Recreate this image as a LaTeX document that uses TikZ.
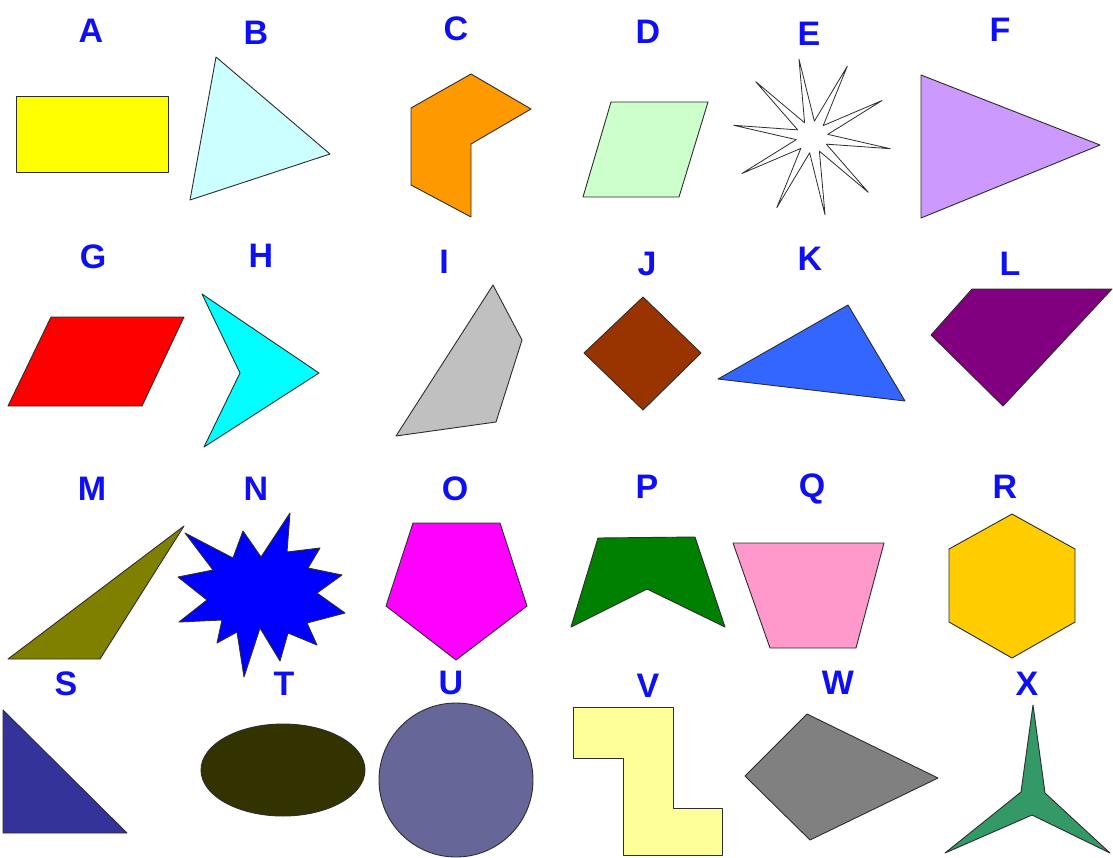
\documentclass[tikz,border=0pt]{standalone}
\usepackage{fontspec}
\setmainfont{Liberation Sans}
\usetikzlibrary{calc}
\definecolor{lbl}{RGB}{15,15,245}
\definecolor{edge}{RGB}{45,45,45}
\definecolor{cA}{HTML}{FFFF00}
\definecolor{cB}{HTML}{CCFFFF}
\definecolor{cC}{HTML}{FF9900}
\definecolor{cD}{HTML}{CCFFCC}
\definecolor{cF}{HTML}{CC99FF}
\definecolor{cG}{HTML}{FF0000}
\definecolor{cH}{HTML}{00FFFF}
\definecolor{cI}{HTML}{C0C0C0}
\definecolor{cJ}{HTML}{993300}
\definecolor{cK}{HTML}{3366FF}
\definecolor{cL}{HTML}{800080}
\definecolor{cM}{HTML}{808000}
\definecolor{cN}{HTML}{0000FF}
\definecolor{cO}{HTML}{FF00FF}
\definecolor{cP}{HTML}{008000}
\definecolor{cQ}{HTML}{FF99CC}
\definecolor{cR}{HTML}{FFCC00}
\definecolor{cS}{HTML}{333399}
\definecolor{cT}{HTML}{333300}
\definecolor{cU}{HTML}{666699}
\definecolor{cV}{HTML}{FFFF99}
\definecolor{cW}{HTML}{808080}
\definecolor{cX}{HTML}{339966}
\begin{document}
\begin{tikzpicture}[x=1pt,y=-1pt,
  shp/.style={draw=edge,line width=0.9pt,line join=round,fill=#1},
  lab/.style={text=lbl,font=\fontsize{34}{38}\selectfont\bfseries,inner sep=0pt,anchor=center}]
\useasboundingbox[fill=white] (0,0) rectangle (1113,857);
% labels
\node[lab] (lA) at (91,31) {A};
\node[lab] (lB) at (256,33) {B};
\node[lab] (lC) at (456,29) {C};
\node[lab] (lD) at (648,32) {D};
\node[lab] (lE) at (809,34) {E};
\node[lab] (lF) at (1000,30) {F};
\node[lab] (lG) at (93,257) {G};
\node[lab] (lH) at (261,256) {H};
\node[lab] (lI) at (444,262) {I};
\node[lab] (lJ) at (647,264) {J};
\node[lab] (lK) at (810,259) {K};
\node[lab] (lL) at (1010,264) {L};
\node[lab] (lM) at (92,489) {M};
\node[lab] (lN) at (256,489) {N};
\node[lab] (lO) at (455,489) {O};
\node[lab] (lP) at (647,487) {P};
\node[lab] (lQ) at (812,489) {Q};
\node[lab] (lR) at (1005,487) {R};
\node[lab] (lS) at (66,684) {S};
\node[lab] (lT) at (284,684) {T};
\node[lab] (lU) at (451,683) {U};
\node[lab] (lV) at (648,686) {V};
\node[lab] (lW) at (838,683) {W};
\node[lab] (lX) at (1027,684) {X};
% row 1
\draw[shp=cA] (16,96) rectangle (168,172);
\draw[shp=cB] (216,57) -- (330,154) -- (190,200) -- cycle;
\draw[shp=cC] (471,74) -- (531,109) -- (471,144) -- (471,217) -- (411,185) -- (411,108) -- cycle;
\draw[shp=cD] (611,102) -- (708,102) -- (679,197) -- (583,197) -- cycle;
\draw[shp=white,line width=0.8pt] ($(812,137)+(260.5:79)$)
  \foreach \k in {0,...,9} { -- ($(812,137)+(278.5+36*\k:16)$) -- ($(812,137)+(296.5+36*\k:79)$) } -- cycle;
\draw[shp=cF] (921,75) -- (1100,145) -- (921,218) -- cycle;
% row 2
\draw[shp=cG] (51,317) -- (184,317) -- (142,406) -- (8,406) -- cycle;
\draw[shp=cH] (202,294) -- (319,373) -- (204,447) -- (240,373) -- cycle;
\draw[shp=cI] (493,285) -- (522,340) -- (496,422) -- (396,436) -- cycle;
\draw[shp=cJ] (643,297) -- (701,353) -- (643,410) -- (584,353) -- cycle;
\draw[shp=cK] (848,305) -- (905,401) -- (718,379) -- cycle;
\draw[shp=cL] (972,289) -- (1112,289) -- (1003,406) -- (931,335) -- cycle;
% row 3
\draw[shp=cM] (184,526) -- (100,659) -- (8,659) -- cycle;
\draw[shp=cN] (185,533) -- (233,558) -- (243,531) -- (261,557) -- (290,513) -- (287,552)
  -- (320,548) -- (308,568) -- (342,575) -- (317,593) -- (345,613) -- (307,623)
  -- (317,645) -- (288,633) -- (280,661) -- (260,628) -- (244,677) -- (237,632)
  -- (217,643) -- (222,620) -- (179,622) -- (207,600) -- (178,577) -- (213,570) -- cycle;
\draw[shp=cO] (413,523) -- (500,523) -- (527,606) -- (456,660) -- (386,606) -- cycle;
\draw[shp=cP] (598,538) -- (695,537) -- (725,627) -- (647,589) -- (571,627) -- cycle;
\draw[shp=cQ] (733,543) -- (884,543) -- (856,648) -- (770,648) -- cycle;
\draw[shp=cR] (1012,514) -- (1075,549) -- (1075,622) -- (1012,658) -- (949,622) -- (949,549) -- cycle;
% row 4
\draw[shp=cS] (3,710) -- (127,833) -- (3,833) -- cycle;
\draw[shp=cT] (283,770) ellipse [x radius=82,y radius=46];
\draw[shp=cU] (456,780) circle [radius=77];
\draw[shp=cV] (573,707) -- (673,707) -- (673,808) -- (722,808) -- (722,855) -- (623,855) -- (623,758) -- (573,758) -- cycle;
\draw[shp=cW] (745,776) -- (807,714) -- (938,778) -- (810,840) -- cycle;
\draw[shp=cX] (1033,705) -- (1045,793) -- (1110,853) -- (1032,815) -- (945,853) -- (1021,792) -- cycle;
\end{tikzpicture}
\end{document}
